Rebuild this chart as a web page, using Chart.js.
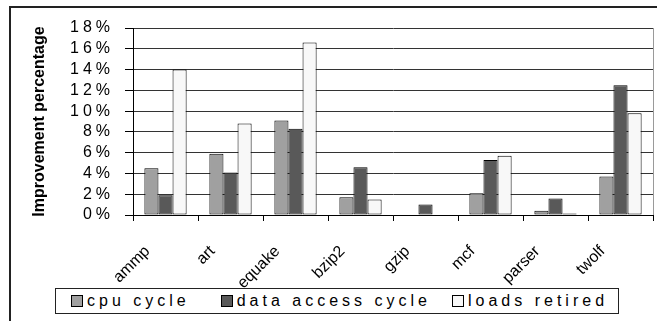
<!DOCTYPE html>
<html lang="en">
<head>
<meta charset="UTF-8">
<title>Improvement percentage</title>
<script src="https://cdn.jsdelivr.net/npm/chart.js"></script>
<style>
    body {
        margin: 0;
        background: #fff;
        font-family: "Liberation Sans", Arial, sans-serif;
    }

    .frame {
        position: absolute;
        left: 9px;
        top: 6px;
        width: 700px;
        height: 400px;
        border: 2px solid #222;
    }

    .chart-box {
        position: absolute;
        left: 0;
        top: 0;
        width: 657px;
        height: 290px;
    }

    .legend {
        position: absolute;
        left: 55px;
        top: 288px;
        width: 564px;
        height: 26px;
        box-sizing: border-box;
        border: 1px solid #222;
        background: #fff;
        display: flex;
        align-items: center;
        padding-left: 15px;
        font-size: 16px;
        letter-spacing: 4px;
        white-space: nowrap;
        color: #000;
    }

    .legend .item {
        display: flex;
        align-items: center;
        flex: none;
        margin-right: 31px;
    }

    .legend .item:nth-child(2) {
        margin-right: 21px;
    }

    .legend .key {
        width: 10px;
        height: 10px;
        border: 1px solid #000;
        margin-right: 4px;
    }
</style>
</head>
<body>
<div class="frame"></div>
<div class="chart-box"><canvas id="improvementChart"></canvas></div>
<div class="legend" id="legend"></div>

<script>
    // benchmarks on the x axis
    const categories = ['ammp', 'art', 'equake', 'bzip2', 'gzip', 'mcf', 'parser', 'twolf'];

    // improvement in percent
    const cpuCycle = [4.5, 5.9, 9.1, 1.7, 0, 2.1, 0.4, 3.7];
    const dataAccessCycle = [1.9, 4.1, 8.3, 4.6, 1.0, 5.3, 1.6, 12.5];
    const loadsRetired = [14.0, 8.8, 16.6, 1.5, 0, 5.7, 0.15, 9.8];

    const seriesNames = ['cpu cycle', 'data access cycle', 'loads retired'];
    const seriesColors = ['#a0a0a0', '#595959', '#f8f8f8'];

    // y axis: 0% .. 18% every 2%
    const yMin = 0;
    const yMax = 18;
    const yStep = 2;

    Chart.defaults.font.family = '"Liberation Sans", Arial, sans-serif';

    // linear scale whose tick labels are drawn letter-spaced (like the original)
    class SpacedLinearScale extends Chart.LinearScale {
        drawLabels(area) {
            this.ctx.save();
            this.ctx.letterSpacing = '4px';
            super.drawLabels(area);
            this.ctx.restore();
        }
    }
    SpacedLinearScale.id = 'spacedLinear';
    SpacedLinearScale.defaults = Chart.LinearScale.defaults;
    Chart.register(SpacedLinearScale);

    const seriesValues = [cpuCycle, dataAccessCycle, loadsRetired];

    const chart = new Chart(document.getElementById('improvementChart'), {
        type: 'bar',
        data: {
            labels: categories,
            datasets: seriesValues.map((vals, i) => ({
                label: seriesNames[i],
                data: vals,
                backgroundColor: seriesColors[i],
                borderColor: '#000',
                borderWidth: 1,
                borderSkipped: false,
                categoryPercentage: 0.65,
                barPercentage: 1.0
            }))
        },
        options: {
            responsive: true,
            maintainAspectRatio: false,
            animation: false,
            devicePixelRatio: 1,
            layout: { padding: { top: 28, right: 4, left: 0, bottom: 0 } },
            plugins: {
                legend: { display: false },
                tooltip: { enabled: false }
            },
            scales: {
                x: {
                    grid: {
                        offset: true,
                        // only the right edge of the plot area shows a (grey) line
                        color: c => c.index === undefined ? '#9a9a9a' : 'rgba(0,0,0,0)',
                        tickColor: '#000',
                        tickLength: 6
                    },
                    border: { color: '#000' },
                    ticks: {
                        color: '#000',
                        font: { size: 16 },
                        minRotation: 45,
                        maxRotation: 45,
                        autoSkip: false,
                        labelOffset: -18,
                        padding: 21
                    },
                    afterFit: s => { s.height = 75; }
                },
                y: {
                    type: 'spacedLinear',
                    min: yMin,
                    max: yMax,
                    ticks: {
                        stepSize: yStep,
                        autoSkip: false,
                        maxTicksLimit: 20,
                        callback: v => v + '%',
                        color: '#000',
                        font: { size: 16 },
                        padding: 11
                    },
                    grid: { color: '#333', tickColor: '#000', tickLength: 8 },
                    border: { color: '#000' },
                    title: {
                        display: true,
                        text: 'Improvement percentage',
                        color: '#000',
                        font: { size: 16, weight: 'bold' },
                        padding: { top: 30, bottom: 0 }
                    },
                    afterFit: s => { s.width = 133; }
                }
            }
        }
    });

    // legend box under the chart
    const legend = document.getElementById('legend');
    seriesNames.forEach((name, i) => {
        const item = document.createElement('div');
        item.className = 'item';
        const key = document.createElement('span');
        key.className = 'key';
        key.style.background = seriesColors[i];
        const txt = document.createElement('span');
        txt.textContent = name;
        item.appendChild(key);
        item.appendChild(txt);
        legend.appendChild(item);
    });
</script>
</body>
</html>
